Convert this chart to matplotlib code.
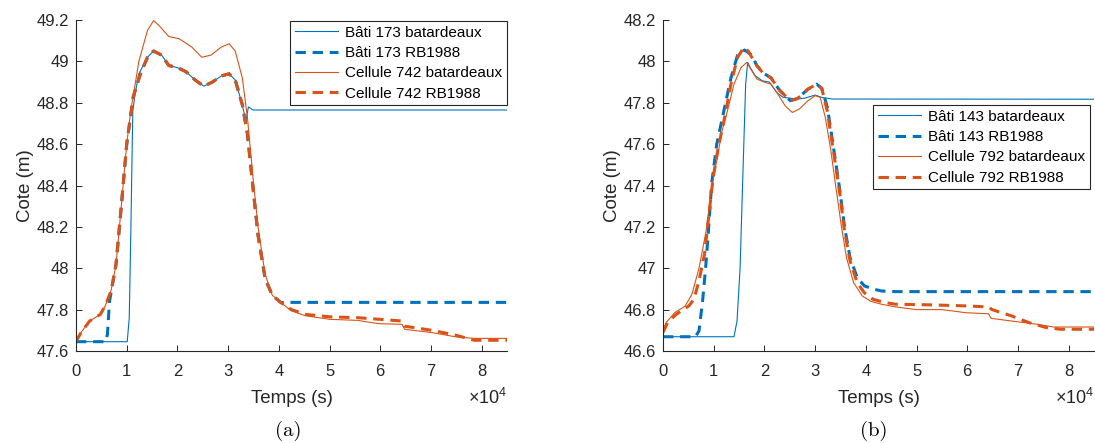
import matplotlib
matplotlib.use("Agg")
import matplotlib.pyplot as plt
from matplotlib.ticker import FuncFormatter

plt.rcParams['font.family'] = ['Liberation Sans', 'DejaVu Sans']
plt.rcParams['mathtext.fontset'] = 'custom'
plt.rcParams['mathtext.rm'] = 'Liberation Sans'

BLUE = '#0072BD'
ORANGE = '#D95319'
DARK = '#262626'

# ---- panel (a) : Bati 173 / Cellule 742 ----
a_bati_bat_t = [0, 10100, 10500, 10800, 11200, 11700, 12400, 14100, 15300, 16900, 18300, 20000, 21700,
                23500, 25200, 26900, 28700, 30200, 31400, 32800, 33500, 34000, 34900, 85000]
a_bati_bat_v = [47.645, 47.645, 47.76, 48.16, 48.76, 48.85, 48.94, 49.02, 49.05, 49.03, 48.98, 48.97, 48.95,
                48.91, 48.88, 48.90, 48.93, 48.94, 48.91, 48.79, 48.71, 48.78, 48.765, 48.765]

a_bati_rb_t = [0, 5800, 6200, 6600, 7100, 7900, 8900, 10000, 11300, 12700, 14100, 15300, 16900, 18300, 20000,
               21700, 23500, 25200, 26900, 28700, 30200, 31400, 32800, 33800, 34900, 35900, 37300, 38700,
               40400, 41500, 42500, 85000]
a_bati_rb_v = [47.645, 47.645, 47.68, 47.84, 47.906, 48.02, 48.29, 48.60, 48.83, 48.94, 49.02, 49.05, 49.03,
               48.98, 48.97, 48.95, 48.91, 48.88, 48.90, 48.93, 48.94, 48.91, 48.79, 48.65, 48.39, 48.16,
               47.95, 47.87, 47.834, 47.835, 47.835, 47.835]

a_cell_bat_t = [0, 1000, 2700, 4800, 5800, 6900, 7900, 8900, 10000, 10800, 12400, 14100, 15300, 16500,
                18300, 20300, 22800, 24800, 26600, 28700, 30200, 31400, 32800, 33800, 34900, 35900, 37300,
                38700, 40400, 42500, 45300, 50100, 55600, 57000, 59800, 64300, 64800, 70200, 75000, 78500,
                85000]
a_cell_bat_v = [47.645, 47.69, 47.745, 47.777, 47.82, 47.89, 48.02, 48.29, 48.60, 48.76, 49.00, 49.15,
                49.197, 49.17, 49.12, 49.11, 49.07, 49.02, 49.03, 49.07, 49.085, 49.05, 48.92, 48.73, 48.44,
                48.20, 47.97, 47.87, 47.834, 47.794, 47.77, 47.753, 47.748, 47.742, 47.732, 47.729, 47.705,
                47.689, 47.668, 47.661, 47.661]

a_cell_rb_t = [0, 1000, 2700, 4800, 5800, 6900, 7900, 8900, 10000, 11300, 12700, 14100, 15300, 16900,
               18300, 20000, 21700, 23500, 25200, 26900, 28700, 30200, 31400, 32800, 33800, 34900, 35900,
               37300, 38700, 40400, 42500, 45300, 50100, 55600, 64300, 64800, 70200, 75000, 78500, 85000]
a_cell_rb_v = [47.645, 47.69, 47.745, 47.777, 47.82, 47.89, 48.02, 48.29, 48.60, 48.83, 48.94, 49.02,
               49.05, 49.03, 48.98, 48.97, 48.95, 48.91, 48.88, 48.90, 48.93, 48.94, 48.91, 48.79, 48.65,
               48.39, 48.16, 47.95, 47.87, 47.834, 47.80, 47.777, 47.765, 47.761, 47.745, 47.72, 47.70,
               47.676, 47.652, 47.652]

# ---- panel (b) : Bati 143 / Cellule 792 ----
b_bati_bat_t = [0, 14000, 14600, 15200, 15800, 16300, 16700, 17200, 18200, 19600, 21000, 22400, 23700,
                26500, 27900, 30000, 31300, 33400, 85000]
b_bati_bat_v = [46.669, 46.669, 46.745, 47.00, 47.49, 47.89, 47.995, 47.97, 47.93, 47.906, 47.90, 47.85,
                47.826, 47.818, 47.822, 47.837, 47.826, 47.818, 47.817]

b_bati_rb_t = [0, 6400, 7100, 7800, 8400, 8900, 9600, 10600, 12000, 13400, 14700, 16100, 17500, 18500,
               19600, 21300, 23000, 25100, 26500, 28600, 30300, 31300, 32400, 33400, 34800, 35800, 36900,
               38300, 39700, 41400, 43100, 46000, 85000]
b_bati_rb_v = [46.669, 46.669, 46.697, 46.84, 47.00, 47.16, 47.41, 47.60, 47.76, 47.92, 48.03, 48.055,
               48.03, 47.98, 47.947, 47.92, 47.86, 47.81, 47.82, 47.866, 47.89, 47.87, 47.78, 47.62, 47.39,
               47.20, 47.05, 46.955, 46.915, 46.90, 46.89, 46.887, 46.887]

b_cell_bat_t = [0, 600, 2300, 4400, 5700, 7100, 8500, 9600, 10600, 11600, 12700, 14000, 15400, 16500,
                17500, 18500, 19900, 21300, 22700, 24100, 25500, 26900, 28600, 30000, 31000, 32000, 33100,
                34100, 35200, 36200, 37600, 39300, 41000, 43100, 45900, 50000, 54900, 57000, 59700, 64200,
                64700, 68700, 73600, 77000, 85000]
b_cell_bat_v = [46.697, 46.737, 46.785, 46.818, 46.874, 47.00, 47.18, 47.39, 47.52, 47.66, 47.76, 47.89,
                47.97, 47.995, 47.955, 47.915, 47.90, 47.89, 47.84, 47.785, 47.753, 47.77, 47.81, 47.834,
                47.826, 47.73, 47.57, 47.39, 47.20, 47.05, 46.93, 46.866, 46.84, 46.826, 46.813, 46.80,
                46.80, 46.794, 46.785, 46.78, 46.758, 46.745, 46.73, 46.716, 46.716]

b_cell_rb_t = [0, 900, 2600, 5100, 6100, 7100, 8200, 9200, 9900, 10900, 12000, 13400, 14700, 16000,
               16800, 17500, 18500, 19600, 21300, 23000, 25100, 26500, 28600, 30300, 31300, 32400, 33400,
               34800, 35800, 36900, 38300, 39700, 41400, 43800, 45900, 52800, 59700, 64200, 64900, 68700,
               72200, 75600, 78400, 85000]
b_cell_rb_v = [46.69, 46.737, 46.777, 46.818, 46.85, 46.94, 47.07, 47.29, 47.44, 47.584, 47.71, 47.89,
               48.02, 48.068, 48.05, 48.02, 47.98, 47.947, 47.92, 47.86, 47.81, 47.82, 47.866, 47.89,
               47.87, 47.76, 47.60, 47.374, 47.18, 47.035, 46.93, 46.882, 46.85, 46.834, 46.826, 46.823,
               46.818, 46.813, 46.80, 46.77, 46.737, 46.713, 46.705, 46.705]

a_labels = ['Bâti 173 batardeaux', 'Bâti 173 RB1988', 'Cellule 742 batardeaux', 'Cellule 742 RB1988']
b_labels = ['Bâti 143 batardeaux', 'Bâti 143 RB1988', 'Cellule 792 batardeaux', 'Cellule 792 RB1988']


def draw_panel(ax, series, labels, ylim, legend_anchor):
    styles = [(BLUE, '-', 0.8), (BLUE, '--', 2.2), (ORANGE, '-', 0.8), (ORANGE, '--', 2.2)]
    for (t, v), lab, (col, ls, lw) in zip(series, labels, styles):
        line, = ax.plot(t, v, color=col, linestyle=ls, linewidth=lw, label=lab)
        if ls == '--':
            line.set_dashes((3.4, 2.2))
    ax.set_xlim(0, 85000)
    ax.set_ylim(*ylim)
    ax.set_xticks([i * 10000 for i in range(9)])
    ax.xaxis.set_major_formatter(FuncFormatter(lambda x, p: '%g' % (x / 10000)))
    ax.yaxis.set_major_formatter(FuncFormatter(lambda y, p: '%g' % round(y, 1)))
    ax.tick_params(direction='in', length=4, width=0.7, colors=DARK, labelsize=12)
    ax.tick_params(axis='x', pad=9)
    ax.tick_params(axis='y', pad=5)
    for s in ['top', 'right']:
        ax.spines[s].set_visible(False)
    for s in ['left', 'bottom']:
        ax.spines[s].set_color(DARK)
        ax.spines[s].set_linewidth(0.8)
    ax.set_xlabel('Temps (s)', fontsize=13.5, color=DARK, labelpad=8)
    ax.set_ylabel('Cote (m)', fontsize=13.5, color=DARK, labelpad=2)
    ax.text(1.0, -0.142, '×10$^{4}$', transform=ax.transAxes, ha='right', va='center',
            fontsize=13, color=DARK)
    leg = ax.legend(loc='upper right', bbox_to_anchor=legend_anchor, fontsize=11, frameon=True,
                    fancybox=False, borderaxespad=0, borderpad=0.3, labelspacing=0.42,
                    handlelength=2.8, handletextpad=0.5)
    leg.get_frame().set_edgecolor(DARK)
    leg.get_frame().set_linewidth(0.8)
    leg.get_frame().set_alpha(1)


fig = plt.figure(figsize=(10.95, 4.43), dpi=100)
ax1 = fig.add_axes([76 / 1095, 1 - 351 / 443, 431 / 1095, 331 / 443])
ax2 = fig.add_axes([663 / 1095, 1 - 351 / 443, 431 / 1095, 331 / 443])

draw_panel(ax1,
           [(a_bati_bat_t, a_bati_bat_v), (a_bati_rb_t, a_bati_rb_v),
            (a_cell_bat_t, a_cell_bat_v), (a_cell_rb_t, a_cell_rb_v)],
           a_labels, (47.6, 49.2), (1.0, 0.997))
ax1.set_yticks([47.6, 47.8, 48.0, 48.2, 48.4, 48.6, 48.8, 49.0, 49.2])

draw_panel(ax2,
           [(b_bati_bat_t, b_bati_bat_v), (b_bati_rb_t, b_bati_rb_v),
            (b_cell_bat_t, b_cell_bat_v), (b_cell_rb_t, b_cell_rb_v)],
           b_labels, (46.6, 48.2), (0.991, 0.743))
ax2.set_yticks([46.6, 46.8, 47.0, 47.2, 47.4, 47.6, 47.8, 48.0, 48.2])

fig.text(288 / 1095, 1 - 431 / 443, '(a)', family='cmr10', fontsize=15, ha='center', va='center')
fig.text(874 / 1095, 1 - 431 / 443, '(b)', family='cmr10', fontsize=15, ha='center', va='center')

fig.savefig('out.png', dpi=100)
